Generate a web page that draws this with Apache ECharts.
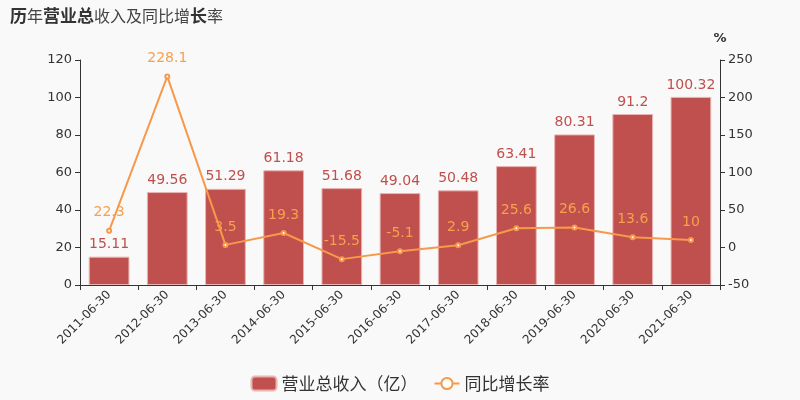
<!DOCTYPE html>
<html>
<head>
<meta charset="utf-8">
<script src="https://cdn.jsdelivr.net/npm/echarts@6/dist/echarts.min.js"></script>
<style>html,body{margin:0;padding:0;background:#f9f9f9;}#c{width:800px;height:400px;}</style>
</head>
<body>
<div id="c"></div>
<script>
var categories = ['2011-06-30','2012-06-30','2013-06-30','2014-06-30','2015-06-30','2016-06-30','2017-06-30','2018-06-30','2019-06-30','2020-06-30','2021-06-30'];
var revenue = [15.11, 49.56, 51.29, 61.18, 51.68, 49.04, 50.48, 63.41, 80.31, 91.2, 100.32];
var growth = [22.3, 228.1, 3.5, 19.3, -15.5, -5.1, 2.9, 25.6, 26.6, 13.6, 10];
var leftTicks = {min: 0, max: 120, interval: 20};
var rightTicks = {min: -50, max: 250, interval: 50};

var chart = echarts.init(document.getElementById('c'));
var font = '"DejaVu Sans", "Noto Sans CJK SC", sans-serif';
var cjk = '"Noto Sans CJK SC", sans-serif';
chart.setOption({
  backgroundColor: '#f9f9f9',
  textStyle: {fontFamily: font},
  title: {
    left: 5, top: 2,
    text: '{b|历}{n|年}{b|营业总}{n|收入及同比增}{b|长}{n|率}',
    textStyle: {
      rich: {
        b: {fontSize: 17, fontWeight: 'bold', color: '#333', fontFamily: cjk},
        n: {fontSize: 16, fontWeight: 'normal', color: '#444', fontFamily: cjk}
      }
    }
  },
  legend: {
    bottom: 3, left: 'center',
    itemWidth: 25, itemHeight: 14, itemGap: 16,
    textStyle: {fontSize: 17, color: '#333', fontFamily: cjk},
    data: [
      {name: '营业总收入（亿）', icon: 'roundRect'},
      {name: '同比增长率'}
    ]
  },
  grid: {left: 80, right: 80, top: 60, bottom: 115},
  xAxis: {
    type: 'category', data: categories,
    axisLine: {lineStyle: {color: '#333'}},
    axisTick: {show: true, alignWithLabel: false},
    axisLabel: {rotate: 45, color: '#333', fontSize: 12, interval: 0, fontFamily: font}
  },
  yAxis: [
    {type: 'value', min: leftTicks.min, max: leftTicks.max, interval: leftTicks.interval,
     axisLine: {show: true, lineStyle: {color: '#333'}}, axisTick: {show: true},
     splitLine: {show: false}, axisLabel: {color: '#333', fontSize: 13, fontFamily: font}},
    {type: 'value', name: '%', nameTextStyle: {color: '#333', fontSize: 13, fontWeight: 'bold', fontFamily: font},
     min: rightTicks.min, max: rightTicks.max, interval: rightTicks.interval,
     axisLine: {show: true, lineStyle: {color: '#333'}}, axisTick: {show: true},
     splitLine: {show: false}, axisLabel: {color: '#333', fontSize: 13, fontFamily: font}}
  ],
  series: [
    {name: '营业总收入（亿）', type: 'bar', data: revenue, barWidth: '70%',
     itemStyle: {color: '#c0504d', borderColor: '#e8b4b3', borderWidth: 1},
     label: {show: true, position: 'top', color: '#c0504d', fontSize: 14, fontFamily: font}},
    {name: '同比增长率', type: 'line', yAxisIndex: 1, data: growth,
     symbol: 'emptyCircle', symbolSize: 4,
     lineStyle: {color: '#f7994b', width: 2},
     itemStyle: {color: '#f7994b', borderWidth: 1.5},
     label: {show: true, position: 'top', color: '#f7a04e', fontSize: 14, distance: 8, fontFamily: font}}
  ]
});
</script>
</body>
</html>
